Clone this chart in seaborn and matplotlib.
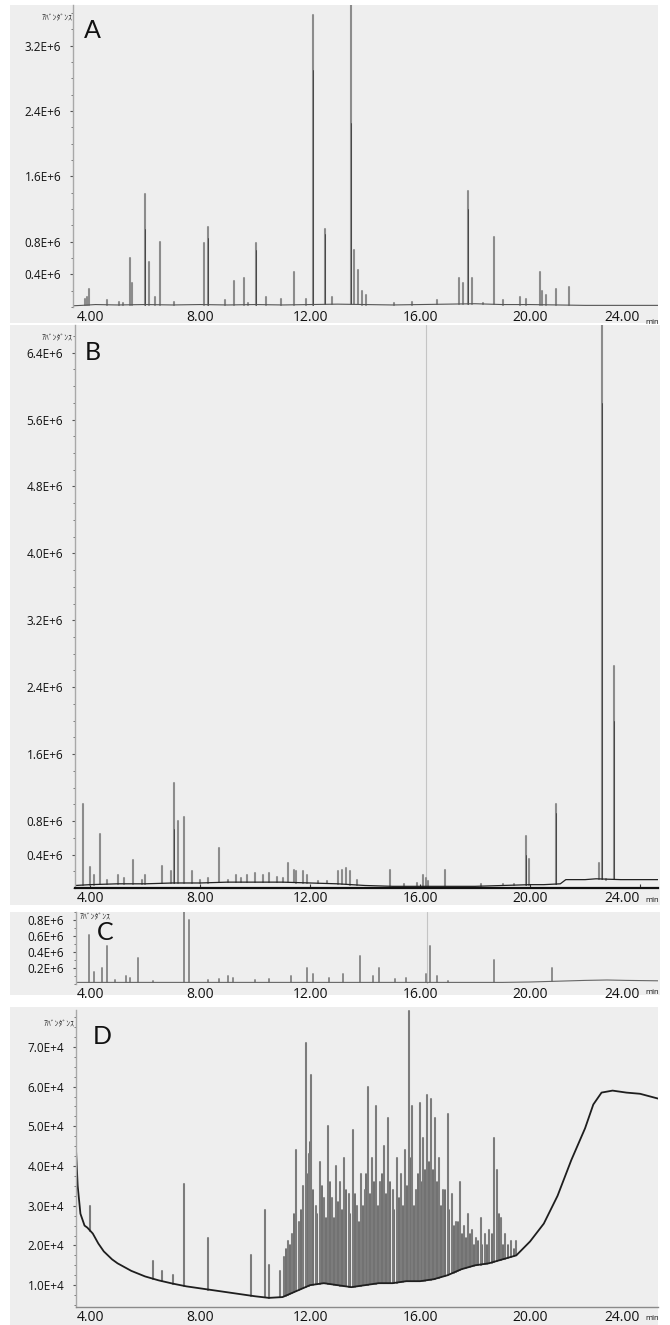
import numpy as np
import pandas as pd
import matplotlib
matplotlib.use("Agg")
import matplotlib.pyplot as plt
from matplotlib.patches import Rectangle
from matplotlib.ticker import MultipleLocator
import seaborn as sns

sns.set_style("white")
plt.rcParams['font.family'] = ['Open Sans', 'Noto Sans CJK JP', 'DejaVu Sans']

# ---------------- data ----------------
# Panel A  (abundance in units of 1E6)
a_peak_t = [3.80, 3.88, 3.95, 4.60, 5.05, 5.20, 5.45, 5.52, 6.00, 6.15, 6.35, 6.55, 7.05, 8.15, 8.30,
            8.90, 9.25, 9.60, 9.75, 10.05, 10.40, 10.95, 11.40, 11.85, 12.10, 12.55, 12.80, 13.50, 13.60,
            13.75, 13.90, 14.05, 15.05, 15.70, 16.60, 17.40, 17.55, 17.75, 17.88, 18.30, 18.70, 19.00,
            19.65, 19.85, 20.35, 20.45, 20.58, 20.95, 21.40, 22.60, 23.30]
a_peak_h = [0.10, 0.12, 0.22, 0.08, 0.06, 0.05, 0.60, 0.30, 1.38, 0.55, 0.12, 0.80, 0.06, 0.78, 0.98,
            0.08, 0.32, 0.36, 0.05, 0.78, 0.12, 0.10, 0.43, 0.10, 3.58, 0.96, 0.12, 3.80, 0.70,
            0.45, 0.20, 0.15, 0.05, 0.06, 0.08, 0.35, 0.30, 1.42, 0.35, 0.05, 0.86, 0.08,
            0.12, 0.10, 0.43, 0.20, 0.15, 0.22, 0.24, 0.03, 0.03]
a_dark_t = [6.00, 8.30, 10.05, 12.10, 12.55, 13.50, 17.75]
a_dark_h = [0.95, 0.85, 0.70, 2.90, 0.90, 2.25, 1.20]
a_base_t = [3.38, 3.7, 4.2, 5.0, 6.0, 7.0, 8.0, 9.0, 10.0, 11.0, 12.0, 13.0, 14.0, 15.0, 16.0, 17.0,
            18.0, 19.0, 20.0, 21.0, 22.0, 23.0, 24.0, 24.65]
a_base_v = [0.015, 0.02, 0.03, 0.025, 0.03, 0.025, 0.03, 0.025, 0.03, 0.025, 0.03, 0.035, 0.03, 0.025,
            0.03, 0.035, 0.04, 0.03, 0.03, 0.025, 0.02, 0.02, 0.02, 0.02]
a_ticks = [0.4, 0.8, 1.6, 2.4, 3.2]
a_ticklabels = ['0.4E+6', '0.8E+6', '1.6E+6', '2.4E+6', '3.2E+6']

# Panel B  (units of 1E6)
b_peak_t = [3.75, 4.00, 4.15, 4.35, 4.60, 5.00, 5.25, 5.55, 5.90, 6.00, 6.60, 6.95, 7.05, 7.20, 7.40,
            7.70, 8.00, 8.30, 8.70, 9.00, 9.30, 9.50, 9.70, 10.00, 10.30, 10.50, 10.80, 11.00, 11.20,
            11.40, 11.50, 11.75, 11.90, 12.30, 12.60, 13.00, 13.15, 13.30, 13.45, 13.70, 14.90, 15.40,
            15.90, 16.10, 16.20, 16.30, 16.90, 18.20, 19.00, 19.40, 19.85, 19.95, 20.95, 22.50, 22.62,
            22.75, 23.05]
b_peak_h = [1.00, 0.25, 0.15, 0.65, 0.10, 0.15, 0.12, 0.33, 0.10, 0.15, 0.26, 0.20, 1.25, 0.80, 0.85,
            0.20, 0.10, 0.12, 0.48, 0.10, 0.15, 0.12, 0.15, 0.18, 0.15, 0.18, 0.13, 0.12, 0.30,
            0.22, 0.20, 0.20, 0.15, 0.08, 0.08, 0.20, 0.22, 0.24, 0.20, 0.10, 0.22, 0.05,
            0.06, 0.15, 0.12, 0.08, 0.22, 0.05, 0.05, 0.05, 0.62, 0.35, 1.00, 0.30, 6.80,
            0.10, 2.65]
b_dark_t = [7.05, 19.85, 20.95, 22.62, 23.05]
b_dark_h = [0.70, 0.40, 0.90, 5.80, 2.00]
b_base_t = [3.45, 4.0, 5.0, 6.0, 7.0, 8.0, 9.0, 10.0, 11.0, 12.0, 13.0, 14.0, 15.0, 16.0, 17.0, 18.0,
            19.0, 20.0, 20.5, 21.1, 21.3, 22.0, 22.4, 23.3, 24.0, 24.65]
b_base_v = [0.03, 0.04, 0.05, 0.05, 0.06, 0.06, 0.07, 0.07, 0.07, 0.06, 0.05, 0.03, 0.02, 0.02, 0.02,
            0.02, 0.03, 0.04, 0.04, 0.05, 0.10, 0.10, 0.11, 0.10, 0.10, 0.10]
b_ticks = [0.4, 0.8, 1.6, 2.4, 3.2, 4.0, 4.8, 5.6, 6.4]
b_ticklabels = ['0.4E+6', '0.8E+6', '1.6E+6', '2.4E+6', '3.2E+6', '4.0E+6', '4.8E+6', '5.6E+6', '6.4E+6']

# Panel C  (units of 1E6)
c_peak_t = [3.60, 3.95, 4.15, 4.45, 4.60, 4.90, 5.30, 5.45, 5.75, 6.30, 7.40, 7.60, 8.30, 8.70, 9.00,
            9.20, 10.00, 10.50, 11.30, 11.90, 12.10, 12.70, 13.20, 13.80, 14.30, 14.50, 15.10, 15.50,
            16.20, 16.35, 16.60, 17.00, 18.70, 20.80]
c_peak_h = [0.03, 0.61, 0.15, 0.20, 0.47, 0.05, 0.10, 0.08, 0.32, 0.04, 0.95, 0.80, 0.05, 0.06, 0.10,
            0.08, 0.05, 0.06, 0.10, 0.20, 0.12, 0.08, 0.12, 0.35, 0.10, 0.20, 0.06, 0.08,
            0.12, 0.48, 0.10, 0.04, 0.30, 0.20]
c_base_t = [3.49, 5.0, 7.0, 9.0, 11.0, 13.0, 15.0, 17.0, 19.0, 20.0, 21.0, 22.0, 22.8, 23.5, 24.65]
c_base_v = [0.02, 0.02, 0.02, 0.02, 0.02, 0.02, 0.02, 0.02, 0.02, 0.025, 0.035, 0.045, 0.05, 0.045, 0.04]
c_ticks = [0.2, 0.4, 0.6, 0.8]
c_ticklabels = ['0.2E+6', '0.4E+6', '0.6E+6', '0.8E+6']

# Panel D  (units of 1E4)
d_peak_t = [4.00, 6.30, 6.60, 7.00, 7.40, 8.30, 9.85, 10.35, 10.50, 10.90, 11.05, 11.20, 11.35, 11.50,
            11.60, 11.75, 11.85, 11.95, 12.05, 12.20, 12.35, 12.50, 12.65, 12.80, 12.95, 13.10, 13.25,
            13.40, 13.55, 13.70, 13.85, 14.00, 14.10, 14.25, 14.40, 14.55, 14.70, 14.85, 15.00, 15.15,
            15.30, 15.45, 15.60, 15.70, 15.85, 16.00, 16.10, 16.25, 16.40, 16.55, 16.70, 16.85, 17.00,
            17.15, 17.30, 17.45, 17.60, 17.75, 17.90, 18.05, 18.20, 18.35, 18.50, 18.70, 18.80, 18.95,
            19.10, 19.30, 19.50]
d_peak_h = [3.00, 1.60, 1.35, 1.25, 3.55, 2.20, 1.75, 2.90, 1.50, 1.35, 1.70, 2.10, 2.30, 4.40,
            2.60, 3.50, 7.10, 4.30, 6.30, 3.00, 4.10, 3.20, 5.00, 3.20, 4.00, 3.60, 4.20,
            3.30, 4.90, 3.00, 3.80, 3.40, 6.00, 4.20, 5.50, 3.60, 4.50, 5.20, 3.40, 4.20,
            3.80, 4.40, 7.90, 5.50, 3.40, 5.60, 4.70, 5.80, 5.70, 5.20, 4.20, 3.40, 5.30,
            3.30, 2.60, 3.60, 2.50, 2.80, 2.40, 2.20, 2.70, 2.30, 2.40, 4.70, 3.90, 2.70,
            2.30, 2.10, 2.10]
d_minor_t = [11.12, 11.27, 11.42, 11.68, 11.90, 12.00, 12.12, 12.27, 12.42, 12.57, 12.72, 12.87, 13.02,
             13.17, 13.32, 13.47, 13.62, 13.77, 13.92, 14.05, 14.18, 14.32, 14.47, 14.62, 14.77, 14.92,
             15.07, 15.22, 15.37, 15.52, 15.65, 15.78, 15.92, 16.05, 16.17, 16.32, 16.47, 16.62, 16.77,
             16.92, 17.07, 17.22, 17.37, 17.52, 17.67, 17.82, 17.97, 18.12, 18.27, 18.42, 18.60, 18.87,
             19.02, 19.20, 19.40]
d_minor_h = [1.9, 2.0, 2.8, 2.9, 3.8, 4.6, 3.4, 2.8, 3.5, 2.7, 3.6, 2.7, 3.1,
             2.9, 3.4, 2.8, 3.3, 2.6, 3.0, 3.8, 3.3, 3.6, 3.0, 3.8, 3.3, 3.6,
             2.9, 3.2, 3.0, 3.5, 4.2, 3.0, 3.8, 3.6, 3.9, 4.1, 3.9, 3.6, 3.0,
             3.4, 2.9, 2.5, 2.6, 2.3, 2.2, 2.3, 2.0, 2.1, 2.0, 2.0, 2.3, 2.8,
             2.0, 2.0, 1.9]
d_base_t = [3.49, 3.55, 3.65, 3.8, 3.9, 4.1, 4.3, 4.5, 4.8, 5.0, 5.5, 6.0, 6.5, 7.0, 7.5, 8.0, 8.5,
            9.0, 9.5, 10.0, 10.5, 11.0, 11.5, 12.0, 12.5, 13.0, 13.5, 14.0, 14.5, 15.0, 15.5, 16.0,
            16.5, 17.0, 17.5, 18.0, 18.5, 19.0, 19.5, 20.0, 20.5, 21.0, 21.5, 22.0, 22.3, 22.6, 23.0,
            23.5, 24.0, 24.65]
d_base_v = [4.40, 3.50, 2.80, 2.50, 2.45, 2.30, 2.05, 1.85, 1.65, 1.55, 1.36, 1.22, 1.12, 1.04, 0.97,
            0.92, 0.87, 0.82, 0.77, 0.72, 0.68, 0.70, 0.85, 1.00, 1.05, 1.00, 0.95, 1.00, 1.05, 1.05,
            1.10, 1.10, 1.15, 1.25, 1.40, 1.50, 1.55, 1.65, 1.75, 2.10, 2.55, 3.25, 4.15, 4.95, 5.55,
            5.85, 5.90, 5.85, 5.82, 5.70]
d_ticks = [1, 2, 3, 4, 5, 6, 7]
d_ticklabels = ['1.0E+4', '2.0E+4', '3.0E+4', '4.0E+4', '5.0E+4', '6.0E+4', '7.0E+4']

x_ticks = [4, 8, 12, 16, 20, 24]
x_ticklabels = ['4.00', '8.00', '12.00', '16.00', '20.00', '24.00']
panel_letters = ['A', 'B', 'C', 'D']
y_axis_title = 'ｱﾊﾞﾝﾀﾞﾝｽ'

# ---------------- layout ----------------
W, H = 670, 1325
fig = plt.figure(figsize=(W / 100, H / 100), dpi=100, facecolor='white')
BG = '#eeeeee'


def px_rect(x0, y0, x1, y1):
    return [x0 / W, 1 - y1 / H, (x1 - x0) / W, (y1 - y0) / H]


def t_of_px(x):
    return 3.38 + (x - 73) / 27.5


for (x0, y0, x1, y1) in [(10, 5, 658, 323), (10, 325, 660, 905), (10, 912, 660, 995), (10, 1007, 658, 1325)]:
    r = px_rect(x0, y0, x1, y1)
    fig.patches.append(Rectangle((r[0], r[1]), r[2], r[3], transform=fig.transFigure,
                                 facecolor=BG, edgecolor='none', zorder=-5))


def sticks(ax, pk_t, pk_h, base_t, base_v, color, lw):
    b = np.interp(pk_t, base_t, base_v)
    rows = []
    for i, (t, bb, h) in enumerate(zip(pk_t, b, pk_h)):
        rows.append((i, t, bb))
        rows.append((i, t, h))
    df = pd.DataFrame(rows, columns=['id', 't', 'v'])
    sns.lineplot(data=df, x='t', y='v', units='id', estimator=None, color=color, lw=lw,
                 ax=ax, legend=False)


def setup(ax, tlim, ylim, ticks, labels, minor, bottom_line=False):
    ax.set_facecolor('none')
    ax.set_xlim(*tlim)
    ax.set_ylim(*ylim)
    for s in ['top', 'right']:
        ax.spines[s].set_visible(False)
    ax.spines['left'].set_color('#a8a8a8')
    ax.spines['left'].set_linewidth(1.0)
    if bottom_line:
        ax.spines['bottom'].set_color('#111111')
        ax.spines['bottom'].set_linewidth(1.6)
        ax.xaxis.set_minor_locator(MultipleLocator(0.5))
        ax.tick_params(axis='x', which='minor', length=2.5, direction='in', color='#333333', width=0.8)
        ax.tick_params(axis='x', which='major', length=3, direction='in', color='#333333', width=0.8)
    else:
        ax.spines['bottom'].set_visible(False)
        ax.tick_params(axis='x', which='both', length=0)
    ax.set_xticks(x_ticks)
    ax.set_xticklabels(x_ticklabels)
    ax.tick_params(axis='x', labelsize=10, pad=2.5, labelcolor='#111111', bottom=True)
    ax.set_yticks(ticks)
    ax.set_yticklabels(labels)
    ax.yaxis.set_minor_locator(MultipleLocator(minor))
    ax.tick_params(axis='y', which='major', length=2.5, width=0.8, color='#555555',
                   labelsize=8.5, pad=6, labelcolor='#111111', left=True)
    ax.tick_params(axis='y', which='minor', length=1.8, width=0.7, color='#777777', left=True)
    ax.set_xlabel('')
    ax.set_ylabel('')
    ax.grid(False)
    lab = ax.get_xticklabels()[-1]
    lab.set_horizontalalignment('right')


PEAK = '#8c8c8c'
DARK = '#3c3c3c'

# ----- Panel A -----
axA = fig.add_axes(px_rect(73, 5, 658, 307))
sticks(axA, a_peak_t, a_peak_h, a_base_t, a_base_v, PEAK, 1.5)
sticks(axA, a_dark_t, a_dark_h, a_base_t, a_base_v, DARK, 0.6)
sns.lineplot(x=a_base_t, y=a_base_v, ax=axA, color='#555555', lw=0.8, estimator=None)
setup(axA, (t_of_px(73), t_of_px(658)), (0, 3.7), a_ticks, a_ticklabels, 0.2)

# ----- Panel B -----
axB = fig.add_axes(px_rect(75, 325, 658, 888))
axB.axvline(16.2, color='#c4c4c4', lw=0.8, zorder=0.5)
sticks(axB, b_peak_t, b_peak_h, b_base_t, b_base_v, PEAK, 1.5)
sticks(axB, b_dark_t, b_dark_h, b_base_t, b_base_v, DARK, 0.6)
sns.lineplot(x=b_base_t, y=b_base_v, ax=axB, color='#222222', lw=0.9, estimator=None)
setup(axB, (t_of_px(75), t_of_px(658)), (0, 6.73), b_ticks, b_ticklabels, 0.2, bottom_line=True)

# ----- Panel C -----
axC = fig.add_axes(px_rect(76, 912, 658, 984))
axC.axvline(16.25, color='#c4c4c4', lw=0.8, zorder=0.5)
sticks(axC, c_peak_t, c_peak_h, c_base_t, c_base_v, PEAK, 1.4)
sns.lineplot(x=c_base_t, y=c_base_v, ax=axC, color='#666666', lw=0.8, estimator=None)
setup(axC, (t_of_px(76), t_of_px(658)), (0, 0.9), c_ticks, c_ticklabels, 0.1)

# ----- Panel D -----
axD = fig.add_axes(px_rect(76, 1010, 658, 1307))
sticks(axD, d_minor_t, d_minor_h, d_base_t, d_base_v, '#5a5a5a', 1.2)
sticks(axD, d_peak_t, d_peak_h, d_base_t, d_base_v, '#7c7c7c', 1.5)
sns.lineplot(x=d_base_t, y=d_base_v, ax=axD, color='#1e1e1e', lw=1.3, estimator=None)
setup(axD, (t_of_px(76), t_of_px(658)), (0.45, 7.93), d_ticks, d_ticklabels, 0.25)
axD.spines['bottom'].set_visible(True)
axD.spines['bottom'].set_color('#8a8a8a')
axD.spines['bottom'].set_linewidth(1.0)

# ----- texts -----
for letter, (x, y) in zip(panel_letters, [(84, 31), (85, 353), (97, 933), (93, 1037)]):
    fig.text(x / W, 1 - y / H, letter, fontsize=18, ha='left', va='center', color='#111111',
             family=['Lato', 'DejaVu Sans'])

jp_family = ['Noto Sans CJK JP', 'DejaVu Sans']
fig.text(72 / W, 1 - 18 / H, y_axis_title, fontsize=5.5, ha='right', va='center', family=jp_family)
fig.text(73 / W, 1 - 338 / H, y_axis_title, fontsize=5.5, ha='right', va='center', family=jp_family)
fig.text(79 / W, 1 - 917 / H, y_axis_title, fontsize=5.5, ha='left', va='center', family=jp_family)
fig.text(74 / W, 1 - 1024 / H, y_axis_title, fontsize=5.5, ha='right', va='center', family=jp_family)

for yb in [323, 900, 992, 1318]:
    fig.text(645 / W, 1 - yb / H, 'min', fontsize=5.5, ha='left', va='center', color='#111111')

fig.savefig('out.png', dpi=100, facecolor='white')
